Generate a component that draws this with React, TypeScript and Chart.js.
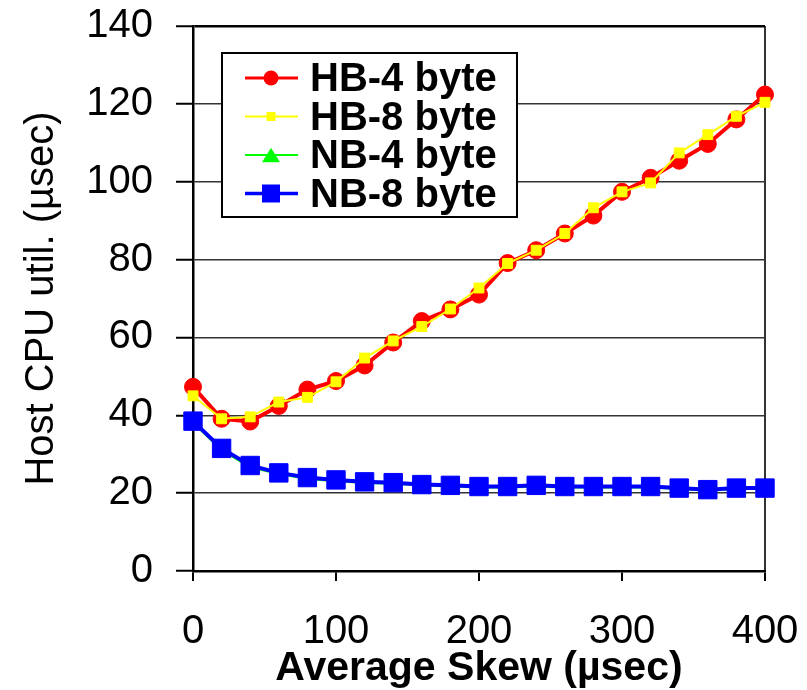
import React, { useEffect, useRef } from 'react';
import { Chart, registerables } from 'chart.js';

Chart.register(...registerables);

// ---- Data ----
const skew = [0, 20, 40, 60, 80, 100, 120, 140, 160, 180, 200, 220, 240, 260, 280, 300, 320, 340, 360, 380, 400];
const hb4 = [47.3, 39.1, 38.4, 42.4, 46.6, 48.8, 52.8, 58.7, 64.2, 67.2, 71.0, 79.1, 82.4, 86.7, 91.3, 97.4, 101.0, 105.4, 109.7, 116.0, 122.4];
const hb8 = [45.0, 39.1, 39.6, 43.4, 44.6, 48.6, 54.7, 59.1, 62.8, 67.3, 72.7, 79.0, 82.4, 86.7, 93.3, 97.4, 99.7, 107.4, 112.1, 116.8, 120.4];
const nb4 = [38.2, 31.1, 26.7, 25.0, 23.7, 23.1, 22.7, 22.5, 22.0, 21.8, 21.5, 21.5, 21.7, 21.5, 21.5, 21.5, 21.5, 21.1, 20.7, 21.1, 21.1];
const nb8 = [38.5, 31.5, 27.1, 25.2, 24.0, 23.4, 22.9, 22.7, 22.2, 22.0, 21.7, 21.7, 22.0, 21.7, 21.7, 21.7, 21.7, 21.3, 20.9, 21.3, 21.3];
const seriesNames = ['HB-4 byte', 'HB-8 byte', 'NB-4 byte', 'NB-8 byte'];
const xTitle = 'Average Skew (µsec)';
const yTitle = 'Host CPU util. (µsec)';
const xMin = 0, xMax = 400, xStep = 100;
const yMin = 0, yMax = 140, yStep = 20;

const FONT = "'Liberation Sans', Arial, Helvetica, sans-serif";

type Style = { color: string; lineWidth: number; shape: 'circle' | 'rect' | 'triangle'; radius: number; legendLine: number; legendSize: number };
const styles: Style[] = [
  { color: '#FF0000', lineWidth: 4, shape: 'circle', radius: 8.5, legendLine: 3, legendSize: 15 },
  { color: '#FFFF00', lineWidth: 2, shape: 'rect', radius: 7, legendLine: 2, legendSize: 9 },
  { color: '#00FF00', lineWidth: 2.5, shape: 'triangle', radius: 10, legendLine: 2, legendSize: 18 },
  { color: '#0000FF', lineWidth: 4, shape: 'rect', radius: 13, legendLine: 3.5, legendSize: 18 },
];
const drawOrder = [3, 1, 4, 2];

function drawShape(ctx: CanvasRenderingContext2D, shape: string, x: number, y: number, size: number) {
  ctx.beginPath();
  if (shape === 'circle') {
    ctx.arc(x, y, size / 2, 0, Math.PI * 2);
  } else if (shape === 'rect') {
    ctx.rect(x - size / 2, y - size / 2, size, size);
  } else {
    const h = size * 0.8;
    ctx.moveTo(x, y - h / 2);
    ctx.lineTo(x + size / 2, y + h / 2);
    ctx.lineTo(x - size / 2, y + h / 2);
    ctx.closePath();
  }
  ctx.fill();
}

const boxLegend = {
  id: 'boxLegend',
  afterDraw(chart: any) {
    const ctx: CanvasRenderingContext2D = chart.ctx;
    const bx = 222, by = 53, bw = 295, bh = 164;
    ctx.save();
    ctx.fillStyle = '#FFFFFF';
    ctx.fillRect(bx, by, bw, bh);
    ctx.strokeStyle = '#000000';
    ctx.lineWidth = 2;
    ctx.strokeRect(bx, by, bw, bh);
    chart.data.datasets.forEach((ds: any, i: number) => {
      const st = styles[i];
      const cy = 78 + i * 38.5;
      ctx.strokeStyle = st.color;
      ctx.lineWidth = st.legendLine;
      ctx.beginPath();
      ctx.moveTo(245, cy);
      ctx.lineTo(298, cy);
      ctx.stroke();
      ctx.fillStyle = st.color;
      drawShape(ctx, st.shape, 271, cy, st.legendSize);
      ctx.fillStyle = '#000000';
      ctx.font = `bold 40px ${FONT}`;
      ctx.textAlign = 'left';
      ctx.textBaseline = 'alphabetic';
      ctx.fillText(ds.label, 310, cy + 13);
    });
    ctx.restore();
  },
};

export default function App() {
  const ref = useRef<HTMLCanvasElement | null>(null);

  useEffect(() => {
    if (!ref.current) return;
    const seriesData = [hb4, hb8, nb4, nb8];
    const datasets = seriesData.map((vals, i) => {
      const st = styles[i];
      return {
        label: seriesNames[i],
        data: skew.map((x, j) => ({ x, y: vals[j] })),
        borderColor: st.color,
        backgroundColor: st.color,
        borderWidth: st.lineWidth,
        pointStyle: st.shape,
        pointRadius: st.radius,
        pointBorderWidth: 1,
        pointBorderColor: st.color,
        pointBackgroundColor: st.color,
        tension: 0,
        clip: false as any,
        order: drawOrder[i],
      };
    });

    const chart = new Chart(ref.current, {
      type: 'line',
      data: { datasets },
      plugins: [boxLegend],
      options: {
        animation: false,
        responsive: false,
        layout: { autoPadding: false, padding: { left: 0, top: 26, right: 42, bottom: 0 } },
        plugins: { legend: { display: false }, tooltip: { enabled: false } },
        scales: {
          x: {
            type: 'linear',
            min: xMin,
            max: xMax,
            ticks: {
              stepSize: xStep,
              color: '#000',
              font: { family: FONT, size: 40, lineHeight: 1 },
              padding: 31,
              maxRotation: 0,
            },
            grid: {
              color: (c: any) => (c.tick && c.tick.value === xMax ? '#333' : 'rgba(0,0,0,0)'),
              lineWidth: 2,
              tickColor: '#000',
              tickLength: 10,
              tickWidth: 2,
            },
            border: { color: '#000', width: 2.5 },
            title: {
              display: true,
              text: xTitle,
              color: '#000',
              font: { family: FONT, size: 41, weight: 'bold', lineHeight: 1 },
              padding: { top: 0, bottom: 1 },
            },
            afterFit: (s: any) => {
              s.height = 119;
              s.paddingLeft = 0;
              s.paddingRight = 0;
              s.paddingTop = 0;
              s.paddingBottom = 0;
            },
          },
          y: {
            type: 'linear',
            min: yMin,
            max: yMax,
            ticks: {
              stepSize: yStep,
              color: '#000',
              font: { family: FONT, size: 40, lineHeight: 1 },
              padding: 23,
            },
            grid: {
              color: (c: any) => (c.tick && c.tick.value === yMax ? '#000' : '#333'),
              lineWidth: (c: any) => (c.tick && c.tick.value === yMax ? 2.5 : 1.5),
              tickColor: '#000',
              tickLength: 17,
              tickWidth: 2,
            },
            border: { color: '#000', width: 2.5 },
            title: {
              display: true,
              text: yTitle,
              color: '#000',
              font: { family: FONT, size: 40, lineHeight: 1 },
              padding: { top: 22, bottom: 0 },
            },
            afterFit: (s: any) => {
              s.width = 193;
              s.paddingLeft = 0;
              s.paddingRight = 0;
              s.paddingTop = 0;
              s.paddingBottom = 0;
            },
          },
        },
      } as any,
    });
    return () => chart.destroy();
  }, []);

  return (
    <div style={{ position: 'absolute', left: 0, top: 0, width: 807, height: 690, background: '#fff' }}>
      <canvas ref={ref} width={807} height={690} style={{ display: 'block' }} />
    </div>
  );
}
